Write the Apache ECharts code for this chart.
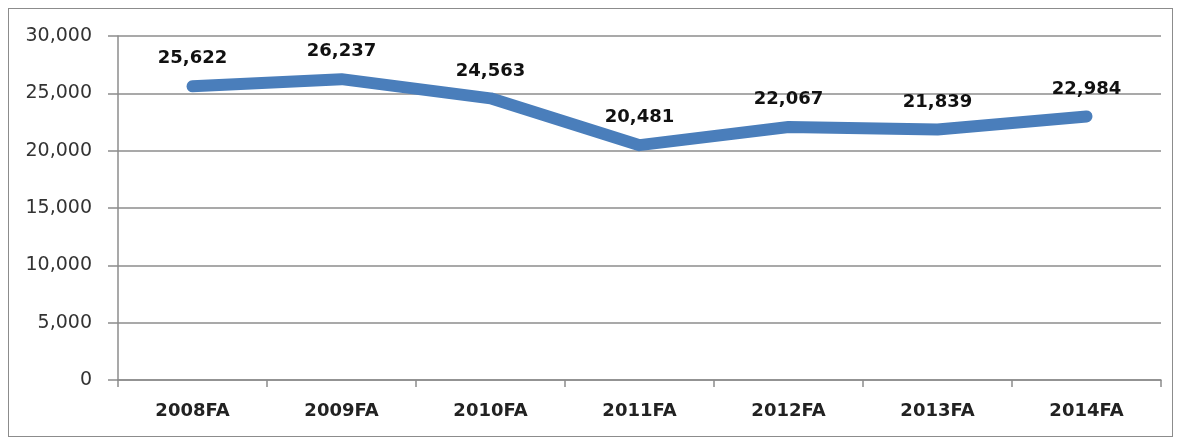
<!DOCTYPE html>
<html>
<head>
<meta charset="utf-8">
<script src="https://cdn.jsdelivr.net/npm/echarts@6/dist/echarts.min.js"></script>
<style>
  html, body { margin: 0; padding: 0; background: #fff; }
  #frame { position: absolute; left: 8px; top: 8px; width: 1165px; height: 429px; border: 1px solid #8c8c8c; box-sizing: border-box; }
  #chart { position: absolute; left: 0; top: 0; width: 1178px; height: 440px; }
</style>
</head>
<body>
<div id="frame"></div>
<div id="chart"></div>
<script>
// Fall headcount by year
const categories = ['2008FA', '2009FA', '2010FA', '2011FA', '2012FA', '2013FA', '2014FA'];
const headcount = [25622, 26237, 24563, 20481, 22067, 21839, 22984];
const yTicks = { min: 0, max: 30000, step: 5000 };

const chart = echarts.init(document.getElementById('chart'));
const font = '"DejaVu Sans", "Liberation Sans", sans-serif';

chart.setOption({
  animation: false,
  grid: { left: 118, right: 17, top: 36, bottom: 60 },
  xAxis: {
    type: 'category',
    data: categories,
    boundaryGap: true,
    axisLine: { lineStyle: { color: '#8c8c8c', width: 1.5 } },
    axisTick: { show: true, length: 7, alignWithLabel: false, lineStyle: { color: '#8c8c8c', width: 1.5 } },
    axisLabel: { color: '#222', fontFamily: font, fontWeight: 'bold', fontSize: 18, margin: 22 }
  },
  yAxis: {
    type: 'value',
    min: yTicks.min,
    max: yTicks.max,
    interval: yTicks.step,
    axisLine: { show: true, lineStyle: { color: '#8c8c8c', width: 1.5 } },
    axisTick: { show: true, length: 10, lineStyle: { color: '#8c8c8c', width: 1.5 } },
    splitLine: { lineStyle: { color: '#8c8c8c', width: 1.5 } },
    axisLabel: {
      color: '#333', fontFamily: font, fontSize: 19, margin: 26,
      formatter: v => v.toLocaleString('en-US')
    }
  },
  series: [{
    type: 'line',
    data: headcount,
    symbol: 'circle',
    symbolSize: 1,
    itemStyle: { color: '#4a7ebb' },
    lineStyle: { color: '#4a7ebb', width: 12, cap: 'round', join: 'round' },
    label: {
      show: true,
      position: 'top',
      distance: 18,
      color: '#111',
      fontFamily: font,
      fontWeight: 'bold',
      fontSize: 18,
      formatter: p => p.value.toLocaleString('en-US')
    }
  }]
});
</script>
</body>
</html>
